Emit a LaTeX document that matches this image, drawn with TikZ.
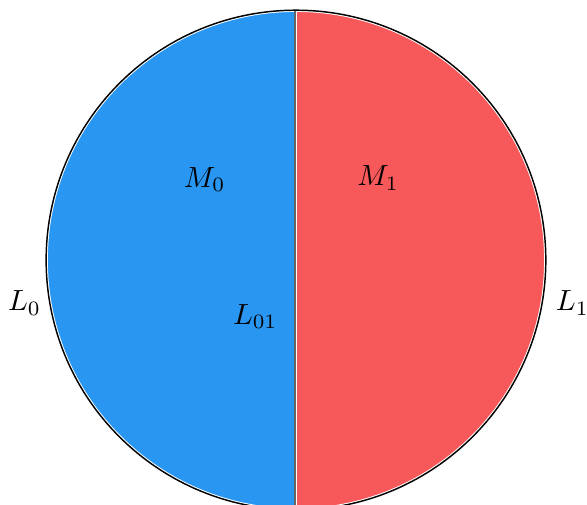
\documentclass[tikz,border=0pt]{standalone}
\usepackage{amsmath,amssymb}
\usepackage{xcolor}
\usepackage{tikz}
\definecolor{halfblue}{RGB}{41,151,242}
\definecolor{halfred}{RGB}{247,89,90}

\begin{document}
\begin{tikzpicture}[
  half/.style={draw=white,line width=0.6pt},
  rim/.style={draw=black,line width=0.5pt},
  cut/.style={draw=black!60,line width=0.5pt}
]
\useasboundingbox (-3.566,-2.94) rectangle (3.506,3.133);
\fill[halfblue,half] (0,3) arc[start angle=90,end angle=270,radius=3] -- cycle;
\fill[halfred,half] (0,-3) arc[start angle=-90,end angle=90,radius=3] -- cycle;
\draw[cut] (-0.01,3) -- (-0.01,-3);
\draw[rim] (0,0) circle[radius=3.01];
\node (m0) at (-1.1,0.97) {$M_0$};
\node (m1) at (0.99,0.99) {$M_1$};
\node (l01) at (-0.49,-0.68) {$L_{01}$};
\node (l0) at (-3.27,-0.52) {$L_0$};
\node (l1) at (3.33,-0.52) {$L_1$};
\end{tikzpicture}
\end{document}
